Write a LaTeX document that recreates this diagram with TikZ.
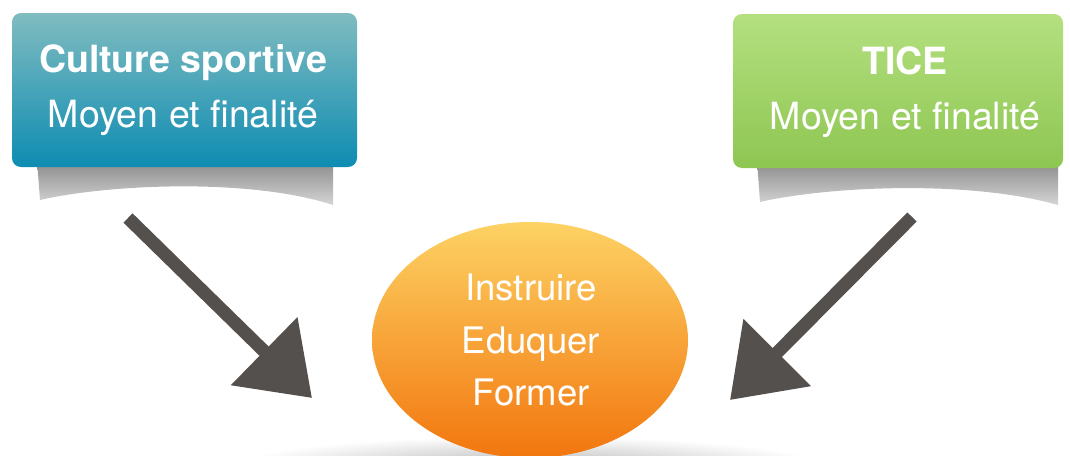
\documentclass[tikz,border=0pt]{standalone}
\usepackage{fontspec}
\setmainfont{TeX Gyre Heros}
\usetikzlibrary{arrows.meta,shapes.geometric}
\definecolor{tealtop}{RGB}{128,188,192}
\definecolor{tealbot}{RGB}{14,140,178}
\definecolor{greentop}{RGB}{180,224,128}
\definecolor{greenbot}{RGB}{142,198,82}
\definecolor{orangetop}{RGB}{253,210,100}
\definecolor{orangebot}{RGB}{242,118,14}
\definecolor{chalk}{RGB}{84,80,78}
\tikzset{
  box/.style={rounded corners=9pt, minimum width=#1, minimum height=154pt, inner sep=0pt},
  labeltext/.style={text=white, align=center, font=\fontsize{37.5}{55}\selectfont},
  paper shadow/.style={top color=black!62, bottom color=black!22, opacity=0.75},
  chalkarrow/.style={draw=chalk, line width=13pt, -{Triangle[length=67pt,width=92pt]}},
}
\begin{document}
\begin{tikzpicture}[x=1pt,y=-1pt]
\useasboundingbox (0,0) rectangle (1070,455);
\clip (0,0) rectangle (1070,455);
% shadow under the ellipse
\shade[inner color=black!30, outer color=white] (530,468) ellipse [x radius=300, y radius=32];
% paper shadows under boxes
\path[paper shadow] (37,160) -- (40,200) .. controls (110,184) and (250,178) .. (333,205) -- (333,160) -- cycle;
\path[paper shadow] (757,160) -- (760,202) .. controls (830,186) and (970,180) .. (1058,205) -- (1058,160) -- cycle;
% boxes
\node[box=345pt, top color=tealtop, bottom color=tealbot] (culture) at (184.5,90) {};
\node[labeltext] (culturetxt) at (183,90.5) {\textbf{Culture sportive}\\Moyen et finalité};
\node[box=330pt, top color=greentop, bottom color=greenbot] (tice) at (898,91) {};
\node[labeltext] (ticetxt) at (905,92) {\textbf{TICE}\\Moyen et finalité};
% ellipse
\node[ellipse, minimum width=316pt, minimum height=236pt, inner sep=0pt,
      top color=orangetop, bottom color=orangebot] (centre) at (530,340) {};
\node[text=white, align=center, font=\fontsize{36.5}{52.5}\selectfont] (centretxt) at (531,340) {Instruire\\Eduquer\\Former};
% arrows
\coordinate (lstart) at (128,218);
\coordinate (ltip) at (312,398);
\coordinate (rstart) at (912,217);
\coordinate (rtip) at (730,400);
\draw[chalkarrow] (lstart) -- (ltip);
\draw[chalkarrow] (rstart) -- (rtip);
\end{tikzpicture}
\end{document}
